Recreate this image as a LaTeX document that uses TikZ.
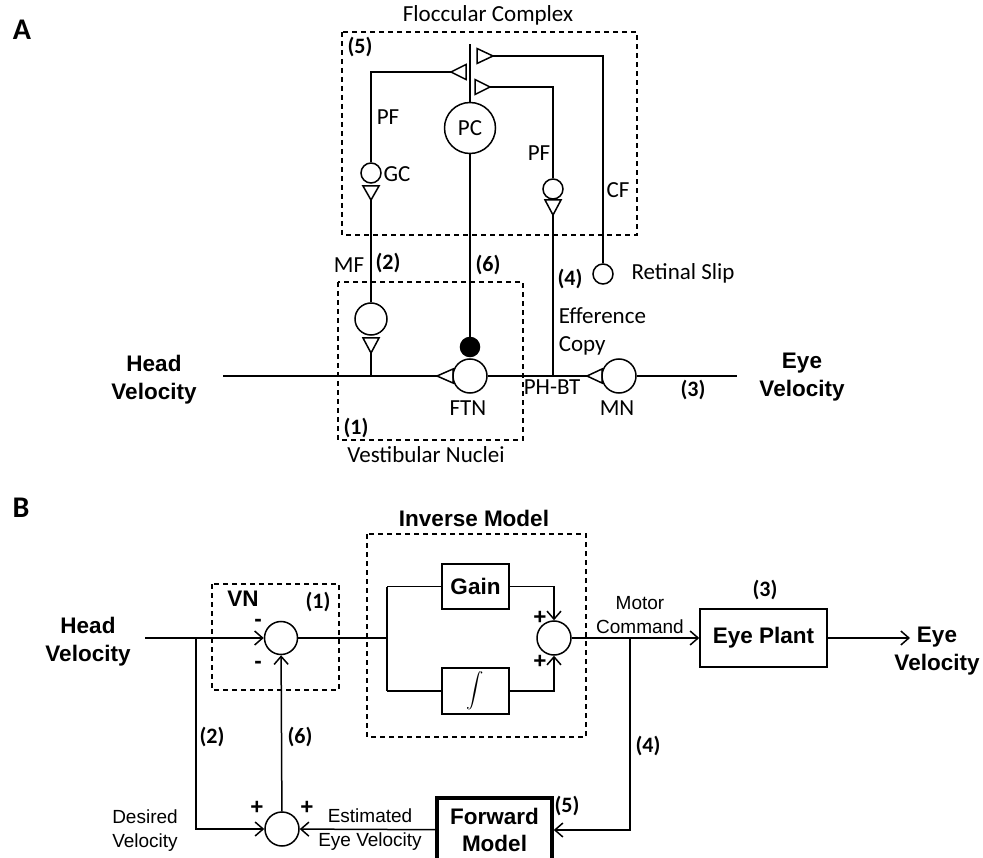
\documentclass[tikz,border=0pt]{standalone}
\usepackage{exscale}
\usepackage{fontspec}
\setmainfont{Carlito}
\newfontfamily\arialfont{Liberation Sans}
\usetikzlibrary{arrows.meta}

\begin{document}
\begin{tikzpicture}[x=1pt,y=-1pt,line width=1.5pt,
  cell/.style={draw,circle,inner sep=0pt},
  lbl/.style={inner sep=0pt,font=\fontsize{23}{28}\selectfont},
  num/.style={inner sep=0pt,font=\bfseries\fontsize{22}{26}\selectfont},
  big/.style={inner sep=0pt,align=center,font=\arialfont\bfseries\fontsize{22.5}{28}\selectfont},
  sign/.style={inner sep=0pt,font=\arialfont\bfseries\fontsize{22.5}{28}\selectfont},
  small/.style={inner sep=0pt,align=center,font=\arialfont\fontsize{19}{24}\selectfont},
  blockbox/.style={draw,rectangle,inner sep=0pt,align=center,font=\arialfont\bfseries\fontsize{22.5}{27}\selectfont},
  region/.style={dash pattern=on 5pt off 4pt,line width=1.2pt},
  arr/.style={-{Straight Barb[length=8pt,width=14pt]}}
]
        \useasboundingbox (0,0) rectangle (983,858);

        % Panel A
        \node[inner sep=0pt,font=\bfseries\fontsize{30}{30}\selectfont] (labA) at (22,30) {A};

        % Floccular complex
        \draw[region] (342,32) rectangle (637,235);
        \node[lbl] (flocc) at (488,15) {Floccular Complex};
        \node[num] (n5a) at (360,47) {(5)};
        \node[cell,minimum size=51pt] (pc) at (470,128) {};
        \node[lbl] at (pc) {PC};
        \coordinate (dtop) at (470,44);
        \draw (pc.north) -- (dtop);
        \node[cell,minimum size=20pt] (gc) at (371,173) {};
        \node[lbl] (gclab) at (397,174) {GC};
        \node[cell,minimum size=20pt] (pfc) at (553,189) {};
        \node[cell,minimum size=20pt] (rs) at (603,274) {};
        \node[lbl] (rslab) at (683,273) {Retinal Slip};

        % Synapses on the PC dendrite
        \coordinate (pfsynL) at (451,72);
        \coordinate (cfsyn) at (493,56);
        \coordinate (pfsynR) at (490,87);
        \draw (pfsynL) -- ++(15,-7.5) -- ++(0,15) -- cycle;
        \draw (cfsyn) -- ++(-16,-7.5) -- ++(0,15) -- cycle;
        \draw (pfsynR) -- ++(-15,-7.5) -- ++(0,15) -- cycle;
        \draw (gc.north) |- (pfsynL);
        \draw (pfc.north) |- (pfsynR);
        \draw (rs.north) |- (cfsyn);
        \node[lbl] (pflabL) at (388,117) {PF};
        \node[lbl] (pflabR) at (539,153) {PF};
        \node[lbl] (cflab) at (618,190) {CF};

        % Fibres going down
        \coordinate (gcsyn) at (371,200);
        \coordinate (pfsyn2) at (553,215);
        \draw (gcsyn) -- ++(-8,-14) -- ++(16,0) -- cycle;
        \draw (pfsyn2) -- ++(-8,-15) -- ++(16,0) -- cycle;
        \node[lbl] (mflab) at (349,265) {MF};
        \node[num] (n2a) at (388,263) {(2)};
        \node[num] (n6a) at (488,265) {(6)};
        \node[num] (n4a) at (570,279) {(4)};
        \node[lbl,align=left,anchor=west] (effcopy) at (558,331) {Efference\\Copy};

        % Vestibular nuclei
        \draw[region] (338,282) rectangle (523,440);
        \node[cell,minimum size=32pt] (mfn) at (371,319) {};
        \draw (mfn.north) -- (gcsyn);
        \coordinate (mfsyn) at (371,353);
        \draw (mfsyn) -- ++(-8,-15) -- ++(16,0) -- cycle;
        \node[cell,fill=black,minimum size=19pt] (inh) at (470,347) {};
        \draw (pc.south) -- (inh.north);
        \node[cell,minimum size=34pt] (ftn) at (470,376) {};
        \node[lbl] (ftnlab) at (468,408) {FTN};
        \node[num] (n1a) at (356,428) {(1)};
        \node[lbl] (vnlab) at (426,455) {Vestibular Nuclei};

        % Head to eye line
        \coordinate (hv) at (223,376);
        \coordinate (ftnsyn) at (437,376);
        \coordinate (mnsyn) at (587,376);
        \coordinate (phbt) at (553,376);
        \coordinate (ev) at (737,376);
        \draw (ftnsyn) -- ++(16,-7) -- ++(0,14) -- cycle;
        \draw (mnsyn) -- ++(15,-7) -- ++(0,14) -- cycle;
        \node[cell,minimum size=34pt] (mn) at (619,376) {};
        \draw (hv) -- (ftnsyn);
        \draw (mfsyn) -- (mfsyn |- hv);
        \draw (ftn.east) -- (mnsyn);
        \draw (mn.east) -- (ev);
        \draw (phbt) -- (pfsyn2);
        \node[lbl] (phbtlab) at (552,387) {PH-BT};
        \node[lbl] (mnlab) at (617,408) {MN};
        \node[num] (n3a) at (693,390) {(3)};
        \node[big] (headA) at (154,380) {Head\\Velocity};
        \node[big] (eyeA) at (802,377) {Eye\\Velocity};

        % Panel B
        \node[inner sep=0pt,font=\bfseries\fontsize{30}{30}\selectfont] (labB) at (21,508) {B};

        % Inverse model
        \draw[region] (367,534) rectangle (586,737);
        \node[big] (imlab) at (474,518) {Inverse Model};
        \node[blockbox,minimum width=67pt,minimum height=45pt] (gain) at (475.5,586.5) {Gain};
        \node[blockbox,minimum width=67pt,minimum height=46pt] (integ) at (475.5,691) {\fontsize{19}{19}\selectfont$\displaystyle\int$};
        \node[cell,minimum size=34pt] (sumim) at (554,638) {};

        % VN
        \draw[region] (212,584) rectangle (339,690);
        \node[sign] (vnB) at (243,599) {VN};
        \node[num] (n1b) at (318,602) {(1)};
        \node[cell,minimum size=33pt] (vn) at (281,638) {};
        \node[cell,minimum size=34pt] (sumfb) at (282,829) {};

        % Plant and forward model
        \node[blockbox,minimum width=127pt,minimum height=58pt] (plant) at (763.5,638) {Eye Plant};
        \node[blockbox,line width=3.5pt,minimum width=115pt,minimum height=64pt] (fwd) at (494.5,830) {Forward\\Model};

        % Connections
        \coordinate (hvB) at (145,638);
        \coordinate (split) at (196,638);
        \coordinate (imsplit) at (387,638);
        \coordinate (mc) at (630,638);
        \coordinate (evB) at (910,638);
        \draw[arr] (hvB) -- (vn);
        \draw[arr] (split) |- (sumfb);
        \draw (vn) -- (imsplit);
        \draw (imsplit |- gain) -- (imsplit |- integ);
        \draw (imsplit |- gain) -- (gain);
        \draw (imsplit |- integ) -- (integ);
        \draw[arr] (gain) -| (sumim);
        \draw[arr] (integ) -| (sumim);
        \draw[arr] (sumim) -- (plant);
        \draw[arr] (plant) -- (evB);
        \draw[arr] (mc) |- (fwd);
        \draw[arr] (fwd) -- (sumfb);
        \draw[arr] (sumfb) -- (vn);

        % Signs
        \node[sign] (m1) at (258,623) {-};
        \node[sign] (m2) at (258,665) {-};
        \node[sign] (p1) at (540,618) {+};
        \node[sign] (p2) at (540,662) {+};
        \node[sign] (p3) at (257,808) {+};
        \node[sign] (p4) at (307,808) {+};

        % Labels
        \node[num] (n2b) at (212,737) {(2)};
        \node[num] (n6b) at (300,737) {(6)};
        \node[num] (n4b) at (648,746) {(4)};
        \node[num] (n3b) at (765,590) {(3)};
        \node[num] (n5b) at (567,806) {(5)};
        \node[small] (motor) at (640,615) {Motor\\Command};
        \node[small] (desired) at (145,831) {Desired\\Velocity};
        \node[small] (estim) at (370,830) {Estimated\\Eye Velocity};
        \node[big] (headB) at (88,642) {Head\\Velocity};
        \node[big] (eyeB) at (937,651) {Eye\\Velocity};
\end{tikzpicture}
\end{document}
